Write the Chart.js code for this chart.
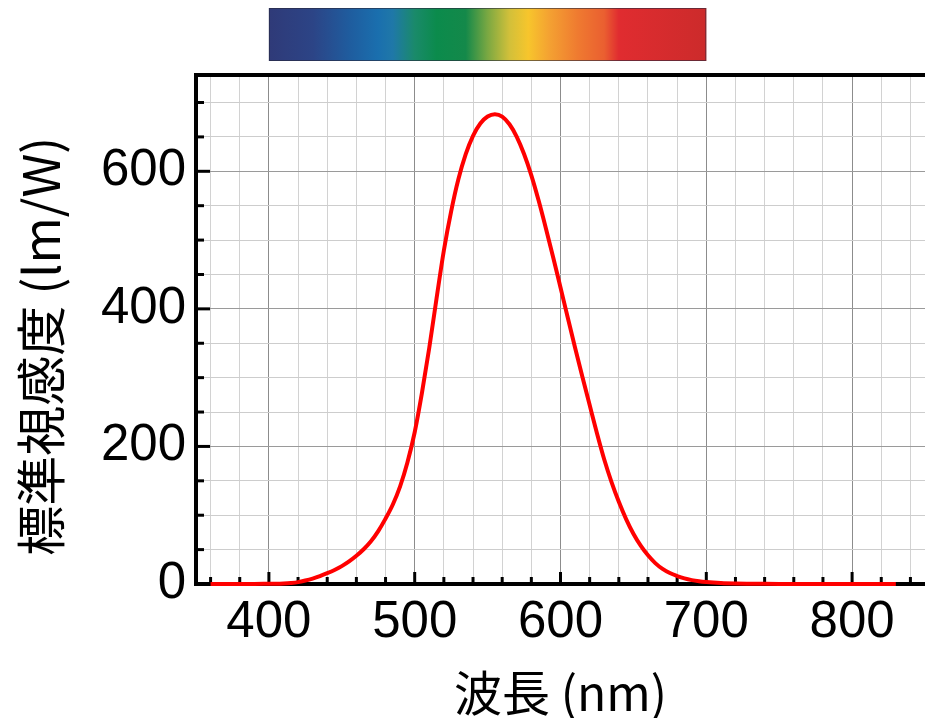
<!DOCTYPE html>
<html>
<head>
<meta charset="utf-8">
<script src="https://cdn.jsdelivr.net/npm/chart.js@4"></script>
<style>
  html, body { margin: 0; padding: 0; background: #fff; }
  #wrap { width: 925px; height: 718px; }
</style>
</head>
<body>
<div id="wrap"><canvas id="vlambda"></canvas></div>
<script>
// wavelengths (nm) and standard luminous efficacy (lm/W)
const wavelengths = [360, 370, 380, 390, 400, 405, 410, 415, 420, 425, 430, 435, 440, 445, 450, 455,
  460, 465, 470, 475, 480, 485, 490, 495, 500, 505, 510, 515, 520, 525, 530, 535, 540, 545, 550, 555,
  560, 565, 570, 575, 580, 585, 590, 595, 600, 605, 610, 615, 620, 625, 630, 635, 640, 645, 650, 655,
  660, 665, 670, 675, 680, 685, 690, 695, 700, 710, 720, 730, 740, 750, 770, 800, 830];
const efficacy = [0, 0, 0.03, 0.08, 0.3, 0.4, 0.8, 1.5, 2.7, 5, 7.9, 11.5, 15.7, 20.4, 26, 32.8,
  41, 50.5, 62.1, 76.9, 95, 115.6, 142, 176.6, 220.6, 278.2, 343.5, 415.4, 484.9, 541.8, 588.7, 624.9, 651.6, 669.5, 679.6, 683,
  679.6, 668.4, 650.2, 625.2, 594.2, 557.5, 517, 474.6, 431, 387.1, 343.5, 301.3, 260.2, 219.2, 181, 148.2, 119.5, 94.4, 73.1, 55.7,
  41.7, 30.4, 21.9, 15.9, 11.6, 8.1, 5.6, 3.9, 2.8, 1.4, 0.7, 0.4, 0.2, 0.1, 0, 0, 0];

const xTicks = [];
for (let w = 360; w <= 840; w += 20) xTicks.push(w);
const xLabels = [400, 500, 600, 700, 800];
const yTicks = [0, 50, 100, 150, 200, 250, 300, 350, 400, 450, 500, 550, 600, 650, 700];
const yLabels = [0, 200, 400, 600];

// colours of the spectrum strip above the plot, by wavelength
const spectrumStops = [
  [400, '#2f3a78'], [430, '#2c4486'], [455, '#1f5c9e'], [475, '#1a6fae'], [485, '#1f78a8'],
  [500, '#1a8a6a'], [515, '#0b8b4c'], [535, '#14894a'], [550, '#7aa842'], [565, '#d2c03a'],
  [578, '#f7c52c'], [592, '#f4a232'], [612, '#ef7a30'], [630, '#ea5f30'], [640, '#e02c30'],
  [700, '#cc2b2b']
];

const tickFont = { family: "'Liberation Sans', Arial, sans-serif", size: 51 };
const titleFamily = "'Noto Sans CJK JP', sans-serif";

const decorations = {
  id: 'decorations',
  beforeDatasetsDraw(chart) {
    const { ctx, chartArea, scales } = chart;
    ctx.save();
    ctx.strokeStyle = '#000';
    ctx.lineWidth = 3;
    // inward ticks on the bottom axis
    xTicks.forEach(v => {
      const x = scales.x.getPixelForValue(v);
      const len = v % 100 === 0 ? 12 : 7;
      ctx.beginPath();
      ctx.moveTo(x, chartArea.bottom);
      ctx.lineTo(x, chartArea.bottom - len);
      ctx.stroke();
    });
    // inward ticks on the left axis
    yTicks.forEach(v => {
      const y = scales.y.getPixelForValue(v);
      const len = v % 200 === 0 ? 14 : 8;
      ctx.beginPath();
      ctx.moveTo(chartArea.left, y);
      ctx.lineTo(chartArea.left + len, y);
      ctx.stroke();
    });
    // top frame line
    ctx.lineWidth = 4;
    ctx.beginPath();
    ctx.moveTo(chartArea.left - 2, chartArea.top);
    ctx.lineTo(chart.width, chartArea.top);
    ctx.stroke();
    ctx.restore();
  },
  afterDraw(chart) {
    const { ctx, scales } = chart;
    const x0 = scales.x.getPixelForValue(400);
    const x1 = scales.x.getPixelForValue(700);
    const grad = ctx.createLinearGradient(x0, 0, x1, 0);
    spectrumStops.forEach(([w, c]) => grad.addColorStop((w - 400) / 300, c));
    ctx.save();
    ctx.fillStyle = grad;
    ctx.fillRect(x0, 8, x1 - x0, 53);
    ctx.strokeStyle = 'rgba(40,40,60,0.6)';
    ctx.lineWidth = 1;
    ctx.strokeRect(x0 + 0.5, 8.5, x1 - x0 - 1, 52);
    ctx.restore();
  }
};

new Chart(document.getElementById('vlambda'), {
  type: 'line',
  data: {
    datasets: [{
      data: wavelengths.map((w, i) => ({ x: w, y: efficacy[i] })),
      borderColor: '#ff0000',
      borderWidth: 4,
      pointRadius: 0,
      cubicInterpolationMode: 'monotone',
      clip: false
    }]
  },
  options: {
    responsive: true,
    maintainAspectRatio: false,
    animation: false,
    layout: { padding: { top: 75, right: 0, left: 0, bottom: 0 } },
    plugins: {
      legend: { display: false },
      tooltip: { enabled: false }
    },
    scales: {
      x: {
        type: 'linear',
        min: 350,
        max: 850,
        afterBuildTicks: s => { s.ticks = xTicks.map(v => ({ value: v })); },
        afterFit: s => { s.height = 134; },
        ticks: {
          autoSkip: false,
          maxRotation: 0,
          padding: 8,
          color: '#000',
          font: tickFont,
          callback: v => xLabels.includes(v) ? String(v) : ''
        },
        grid: {
          drawTicks: false,
          lineWidth: 1,
          color: c => c.tick && c.tick.value % 100 === 0 ? '#8c8c8c' : '#d2d2d2'
        },
        border: { color: '#000', width: 4 },
        title: {
          display: true,
          text: '波長 (nm)',
          color: '#000',
          font: { family: titleFamily, size: 48, weight: '400', lineHeight: 1 },
          padding: { top: 0, bottom: 1 }
        }
      },
      y: {
        min: 0,
        max: 740,
        afterBuildTicks: s => { s.ticks = yTicks.map(v => ({ value: v })); },
        afterFit: s => { s.width = 196; },
        ticks: {
          autoSkip: false,
          padding: 10,
          color: '#000',
          font: tickFont,
          callback: v => yLabels.includes(v) ? String(v) : ''
        },
        grid: {
          drawTicks: false,
          lineWidth: 1,
          color: c => c.tick && c.tick.value % 200 === 0 && c.tick.value > 0 ? '#9a9a9a' : '#cdcdcd'
        },
        border: { color: '#000', width: 4 },
        title: {
          display: true,
          text: '標準視感度 (lm/W)   ',
          color: '#000',
          font: { family: titleFamily, size: 50, weight: '400', lineHeight: 1 },
          padding: { top: 16, bottom: 0 }
        }
      }
    }
  },
  plugins: [decorations]
});
</script>
</body>
</html>
